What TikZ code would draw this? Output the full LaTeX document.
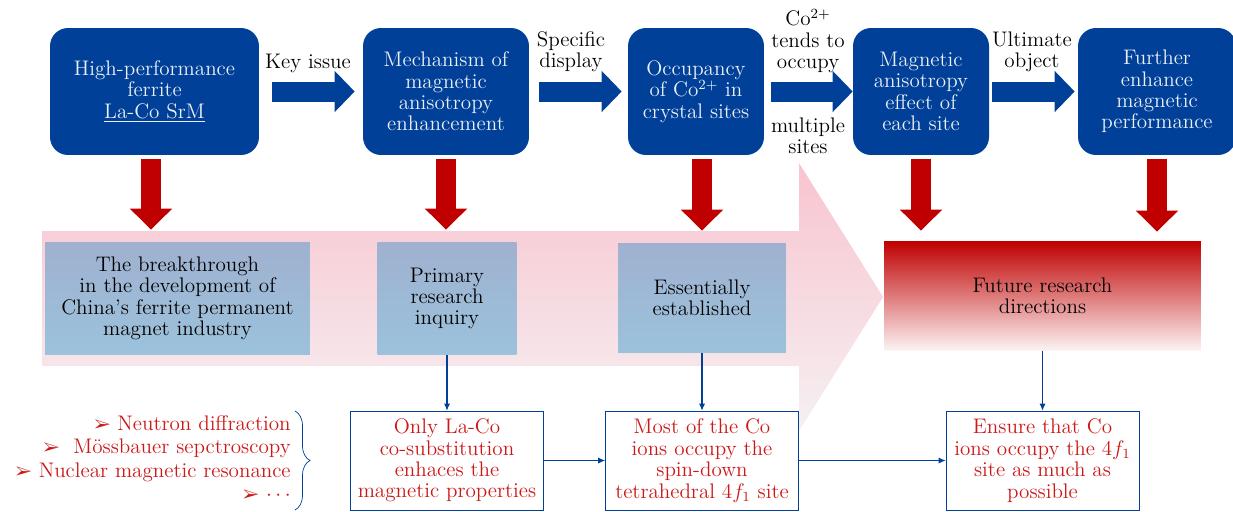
\documentclass[tikz,border=0pt]{standalone}
\usepackage{pifont}
\usetikzlibrary{arrows.meta,decorations.pathreplacing}
\definecolor{mainblue}{RGB}{0,64,152}
\definecolor{darkred}{RGB}{192,0,0}
\definecolor{pinkT}{RGB}{248,196,207}
\definecolor{pinkB}{RGB}{245,240,242}
\definecolor{grayT}{RGB}{159,177,207}
\definecolor{grayB}{RGB}{155,194,220}
\definecolor{textred}{RGB}{204,24,24}
\newcommand{\bul}{{\fontsize{10}{10}\selectfont\ding{226}}}
\tikzset{
  topbox/.style={fill=mainblue, rounded corners=0.36cm, text=white!92!mainblue, align=center, minimum height=2.54cm, inner sep=1pt},
  midbox/.style={top color=grayT, bottom color=grayB, align=center, minimum height=2.26cm, inner sep=1pt},
  lowbox/.style={draw=mainblue, fill=white, text=textred, align=center, minimum width=3.86cm, minimum height=1.98cm, inner sep=1pt},
  flowarrow/.style={mainblue, line width=0.4cm, -{Triangle[length=0.4cm,width=0.8cm]}},
  downarrow/.style={darkred, line width=0.4cm, -{Triangle[length=0.42cm,width=0.82cm]}, shorten <=0.08cm},
  link/.style={mainblue, semithick, -{Latex[length=4pt,width=3.5pt]}}
}
\begin{document}
\begin{tikzpicture}[x=0.02cm,y=-0.02cm,font=\fontsize{12}{12.2}\selectfont]
\useasboundingbox (0,0) rectangle (1233,511);
\shade[top color=pinkT, bottom color=pinkB] (42,231) -- (799,231) -- (799,163) -- (883,297) -- (799,431) -- (799,366) -- (42,366) -- cycle;

\node[topbox, minimum width=4.18cm] (t1) at (154.5,91.5) {High-performance\\ferrite\\\underline{La-Co SrM}};
\node[topbox, minimum width=3.32cm] (t2) at (446,91.5) {Mechanism of\\magnetic\\anisotropy\\enhancement};
\node[topbox, minimum width=2.72cm] (t3) at (696,91.5) {Occupancy\\of Co$^{2+}$ in\\crystal sites};
\node[topbox, minimum width=2.72cm] (t4) at (921,91.5) {Magnetic\\anisotropy\\effect of\\each site};
\node[topbox, minimum width=3.16cm] (t5) at (1157,91.5) {Further\\enhance\\magnetic\\performance};

\node[midbox, minimum width=5.3cm] (a) at (177.5,298.5) {The breakthrough\\in the development of\\China's ferrite permanent\\magnet industry};
\node[midbox, minimum width=2.78cm] (b) at (447,298.5) {Primary\\research\\inquiry};
\node[midbox, minimum width=3.36cm, minimum height=2.2cm] (c) at (702,298) {Essentially\\established};
\node[top color=darkred, bottom color=white!96!darkred, align=center, minimum width=6.34cm, minimum height=2.2cm] (d) at (1042.5,296) {Future research\\directions};

\node[lowbox] (e) at (447,460.5) {Only La-Co\\co-substitution\\enhaces the\\magnetic properties};
\node[lowbox] (f) at (702,460.5) {Most of the Co\\ions occupy the\\spin-down\\tetrahedral $4f_1$ site};
\node[lowbox] (g) at (1042.5,460.5) {Ensure that Co\\ions occupy the $4f_1$\\site as much as\\possible};

\node[text=textred, align=right, anchor=east, inner sep=0pt, font=\fontsize{12}{13.3}\selectfont] (meth) at (291,458) {\bul{} Neutron diffraction\\\bul\ \ Mössbauer sepctroscopy\\\bul{} Nuclear magnetic resonance\\\bul{} $\cdots$};
\draw[mainblue, decorate, decoration={brace, amplitude=0.3cm}] (295,411) -- (295,510);

\draw[flowarrow, shorten <=0.26cm, shorten >=0.16cm] (t1) -- (t2);
\draw[flowarrow, shorten <=0.2cm, shorten >=0.12cm] (t2) -- (t3);
\draw[flowarrow, shorten <=0.14cm] (t3) -- (t4);
\draw[flowarrow, shorten <=0.06cm, shorten >=0.06cm] (t4) -- (t5);
\node[align=center] (k1) at (308,63) {Key issue};
\node[align=center] (k2) at (571,52) {Specific\\display};
\node[align=center] (k3) at (808,41) {Co$^{2+}$\\tends to\\occupy};
\node[align=center] (k4) at (808,136) {multiple\\sites};
\node[align=center] (k5) at (1032,52) {Ultimate\\object};

\draw[downarrow, shorten >=0.24cm] ([xshift=-0.07cm]t1.south) -- ([xshift=-0.07cm]t1.south |- a.north);
\draw[downarrow, shorten >=0.24cm] (t2) -- (t2 |- b.north);
\draw[downarrow, shorten >=0.24cm] (t3.south -| c.north) -- (c.north);
\draw[downarrow, shorten >=0.2cm] (t4) -- (t4 |- d.north);
\draw[downarrow, shorten >=0.18cm] (t5) -- (t5 |- d.north);

\draw[link] (b) -- (e);
\draw[link] (c) -- (f);
\draw[link] (d) -- (g);
\draw[link] (e) -- (f);
\draw[link] (f) -- (g);
\end{tikzpicture}
\end{document}
